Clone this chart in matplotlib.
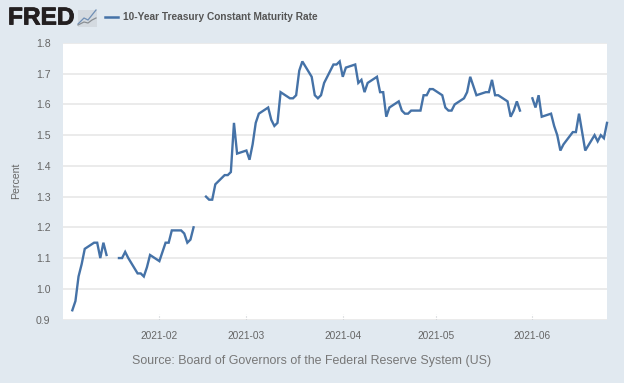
import matplotlib
matplotlib.use("Agg")
import matplotlib.pyplot as plt
import matplotlib.dates as mdates
import matplotlib.patheffects as pe
import numpy as np
import pandas as pd
from matplotlib.lines import Line2D
from matplotlib.patches import Rectangle

plt.rcParams['font.family'] = ['Liberation Sans', 'DejaVu Sans']

W, H = 624, 383
BG = "#e1e9f0"
LINE = "#4572a7"
TXT = "#666666"

# business days, None = market holiday
rates = [
    0.93, 0.96, 1.04, 1.08, 1.13,
    1.15, 1.15, 1.10, 1.15, 1.11,
    None, 1.10, 1.10, 1.12, 1.10,
    1.05, 1.05, 1.04, 1.07, 1.11,
    1.09, 1.12, 1.15, 1.15, 1.19,
    1.19, 1.18, 1.15, 1.16, 1.20,
    None, 1.30, 1.29, 1.29, 1.34,
    1.37, 1.37, 1.38, 1.54, 1.44,
    1.45, 1.42, 1.47, 1.54, 1.57,
    1.59, 1.55, 1.53, 1.54, 1.64,
    1.62, 1.62, 1.63, 1.71, 1.74,
    1.69, 1.63, 1.62, 1.63, 1.67,
    1.73, 1.73, 1.74, 1.69, 1.72,
    1.73, 1.67, 1.68, 1.64, 1.67,
    1.69, 1.64, 1.64, 1.56, 1.59,
    1.61, 1.58, 1.57, 1.57, 1.58,
    1.58, 1.63, 1.63, 1.65, 1.65,
    1.63, 1.59, 1.58, 1.58, 1.60,
    1.62, 1.64, 1.69, 1.66, 1.63,
    1.64, 1.64, 1.68, 1.63, 1.63,
    1.61, 1.56, 1.58, 1.61, 1.58,
    None, 1.62, 1.59, 1.63, 1.56,
    1.57, 1.53, 1.50, 1.45, 1.47,
    1.51, 1.51, 1.57, 1.51, 1.45,
    1.50, 1.48, 1.50, 1.49, 1.54,
]
dates = pd.bdate_range("2021-01-04", "2021-06-25")
y_ticks = [0.9, 1.0, 1.1, 1.2, 1.3, 1.4, 1.5, 1.6, 1.7, 1.8]
x_ticks = ["2021-02-01", "2021-03-01", "2021-04-01", "2021-05-01", "2021-06-01"]

values = np.array([np.nan if r is None else r for r in rates])

fig = plt.figure(figsize=(W / 100, H / 100), dpi=100, facecolor=BG)

# plot area is placed in pixels from the top left
left, right, top, bottom = 63, 607, 43, 319.5
ax = fig.add_axes([left / W, 1 - bottom / H, (right - left) / W, (bottom - top) / H])
ax.plot(dates, values, color=LINE, lw=1.7, solid_joinstyle="miter", clip_on=False)

ax.set_xlim(pd.Timestamp("2021-01-01"), pd.Timestamp("2021-06-25"))
ax.set_ylim(0.9, 1.8)
ax.set_yticks(y_ticks)
ax.set_yticklabels(["%.1f" % t for t in y_ticks])
ax.set_xticks(pd.to_datetime(x_ticks))
ax.xaxis.set_major_formatter(mdates.DateFormatter("%Y-%m"))
ax.grid(axis="y", color="#e8e8e8", lw=1.2)
ax.set_axisbelow(True)
for s in ax.spines.values():
    s.set_visible(False)
ax.tick_params(axis="y", length=0, labelsize=7.6, labelcolor=TXT, pad=9)
ax.tick_params(axis="x", length=0, labelsize=7.3, labelcolor=TXT, pad=8)
# small dotted stubs above the month labels
for d in x_ticks:
    ax.axvline(pd.Timestamp(d), ymin=0, ymax=0.02, color="#c8ccd0", lw=0.8, ls=":")

fig.text(16 / W, 1 - 181 / H, "Percent", rotation=90, fontsize=7.6, color=TXT, ha="center", va="center")
fig.text(312 / W, 1 - 361 / H, "Source: Board of Governors of the Federal Reserve System (US)",
         fontsize=8.9, color="#777777", ha="center", va="center")

# header: logo, small chart icon, legend
logo = fig.text(8 / W, 1 - 18 / H, "FRED", fontsize=17.6, fontweight="bold", color="#231f20", ha="left", va="center")
logo.set_path_effects([pe.withStroke(linewidth=0.6, foreground="#231f20")])
fig.add_artist(Rectangle((78 / W, 1 - 27 / H), 19 / W, 17 / H, transform=fig.transFigure, fc="#d4dae0", ec="none"))
fig.add_artist(Line2D(np.array([78, 84, 88, 92, 96]) / W, 1 - np.array([24, 18, 20, 15, 10]) / H, color="#6f8fb5", lw=0.9))
fig.add_artist(Line2D(np.array([78, 84, 88, 92, 96]) / W, 1 - np.array([25, 22, 23, 20, 18]) / H, color="#8a8f94", lw=0.9))
fig.add_artist(Line2D(np.array([105, 118]) / W, 1 - np.array([17, 17]) / H, color=LINE, lw=1.8))
fig.text(123 / W, 1 - 17 / H, "10-Year Treasury Constant Maturity Rate", fontsize=7.3, fontweight="bold",
         color="#555555", ha="left", va="center")

fig.savefig("out.png", dpi=100, facecolor=BG)
